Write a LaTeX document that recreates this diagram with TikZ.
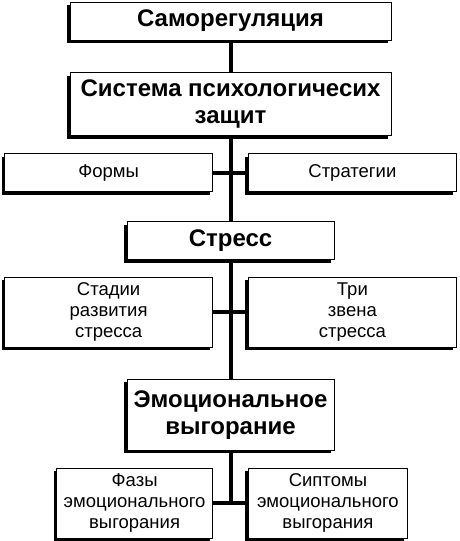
\documentclass[tikz,border=0pt]{standalone}
\usepackage{fontspec}
\setmainfont{Liberation Sans}
\usetikzlibrary{positioning,shadows}

\begin{document}
\begin{tikzpicture}[
    x=1pt, y=1pt,
    boxshadow/.style={drop shadow={shadow xshift=-3pt, shadow yshift=-3pt, fill=black, opacity=1}},
    head/.style={draw, line width=0.8pt, fill=white, boxshadow, inner sep=0pt, minimum width=207pt, minimum height=38pt, align=center, font=\fontsize{24}{27}\selectfont\bfseries},
    side/.style={draw, line width=0.8pt, fill=white, boxshadow, inner sep=0pt, minimum width=208pt, minimum height=38pt, align=center, font=\fontsize{18.5}{21}\selectfont},
    link/.style={line width=4pt}
]
\useasboundingbox (0,0) rectangle (460,-541);
\node[head, minimum width=321pt] (samo) at (230.5,-21) {Саморегуляция};
\node[head, minimum width=321pt, minimum height=63pt, below=32pt of samo] (sys) {Система психологичесих\\защит};
\node[side, below left=17pt and 17.5pt of sys.south] (formy) {Формы};
\node[side, below right=17pt and 17.5pt of sys.south] (strat) {Стратегии};
\node[head, below=85pt of sys] (stress) {Стресс};
\node[side, minimum height=70pt, below left=17pt and 17.5pt of stress.south] (stadii) {Стадии\\развития\\стресса};
\node[side, minimum height=70pt, below right=17pt and 17.5pt of stress.south] (tri) {Три\\звена\\стресса};
\node[head, minimum height=71pt, below=119pt of stress] (emo) {Эмоциональное\\выгорание};
\node[side, minimum width=156pt, minimum height=70pt, below left=17pt and 17.5pt of emo.south] (fazy) {Фазы\\эмоционального\\выгорания};
\node[side, minimum width=159pt, minimum height=70pt, below right=17pt and 17.5pt of emo.south] (sipt) {Сиптомы\\эмоционального\\выгорания};
% vertical spine
\draw[link] (samo) -- (sys);
\draw[link] (sys) -- (stress);
\draw[link] (stress) -- (emo);
\draw[link] (emo.south) |- (fazy.east);
% side links
\draw[link] (formy.east) -- (strat.west);
\draw[link] (stadii.east) -- (tri.west);
\draw[link] (fazy.east) -- (sipt.west);
\end{tikzpicture}
\end{document}
